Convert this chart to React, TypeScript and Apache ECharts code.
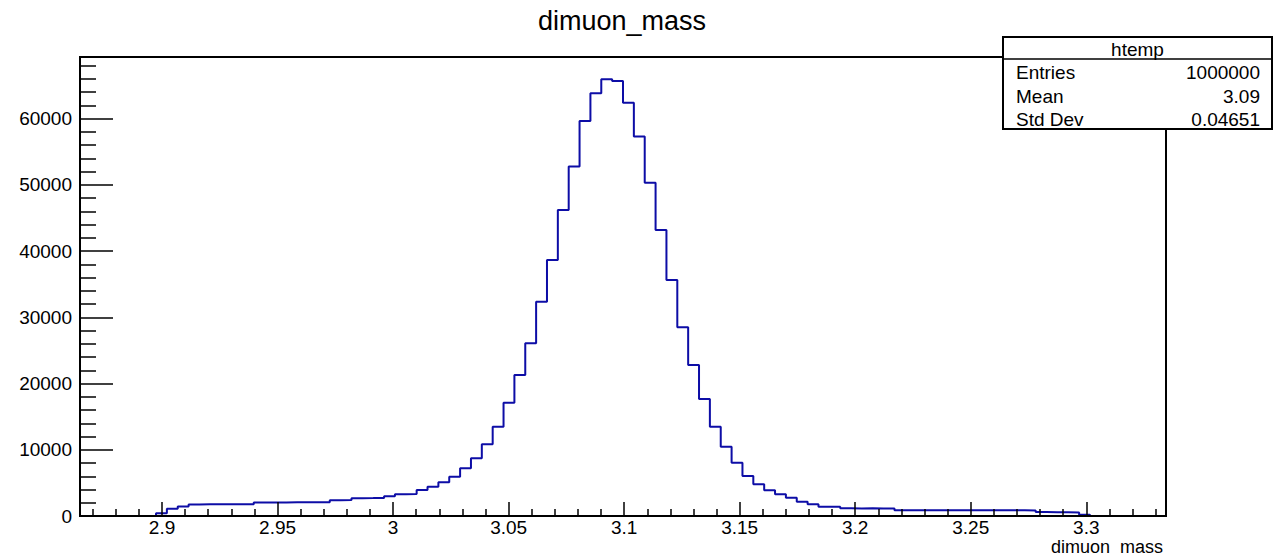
import React, { useEffect, useRef } from "react";
import * as echarts from "echarts";

const chartTitle = "dimuon_mass";
const xAxisName = "dimuon_mass";
const xMin = 2.8645;
const xMax = 3.3345;
const yMax = 69300;
const yTickStep = 10000;

// 100 bins between xMin and xMax
const binCounts = [
  0, 0, 0, 0, 0, 0, 0, 400, 1100, 1450,
  1750, 1760, 1770, 1760, 1780, 1790, 2020, 2030, 2050, 2060,
  2060, 2080, 2090, 2380, 2400, 2680, 2700, 2730, 3000, 3280,
  3320, 3930, 4430, 5080, 5940, 7200, 8710, 10820, 13490, 17100,
  21290, 26070, 32360, 38660, 46200, 52750, 59650, 63820, 65940, 65690,
  62410, 57280, 50330, 43190, 35640, 28490, 22800, 17670, 13490, 10470,
  8050, 6040, 4780, 3900, 3270, 2770, 2170, 1760, 1410, 1400,
  1160, 1150, 1160, 1140, 1150, 870, 860, 860, 850, 860,
  860, 850, 860, 860, 850, 860, 850, 840, 600, 550,
  550, 540, 200, 0, 0, 0, 0, 0, 0, 0,
];

const statsTitle = "htemp";
const statsLabels = ["Entries", "Mean", "Std Dev"];
const statsValues = ["1000000", "3.09", "0.04651"];

const FONT = "'Liberation Sans', Arial, Helvetica, sans-serif";
const LINE_BLUE = "#0d0da6";

export default function App() {
  const ref = useRef<HTMLDivElement>(null);

  useEffect(() => {
    if (!ref.current) return;
    const chart = echarts.init(ref.current, undefined, { renderer: "svg" });

    const bw = (xMax - xMin) / binCounts.length;
    const points: number[][] = binCounts.map((c, i) => [xMin + i * bw, c]);
    points.push([xMax, binCounts[binCounts.length - 1]]);

    const statsX = 1003;
    const statsY = 37;
    const statsW = 269;
    const statsH = 92;
    const rowYs = [72, 96, 119];

    const graphics: any[] = [
      {
        type: "text",
        x: 622,
        y: 21,
        z: 100,
        style: {
          text: chartTitle,
          fill: "#000",
          font: `27px ${FONT}`,
          align: "center",
          verticalAlign: "middle",
        },
      },
      {
        type: "text",
        x: 1163,
        y: 546.5,
        z: 100,
        style: {
          text: xAxisName,
          fill: "#000",
          font: `18px ${FONT}`,
          align: "right",
          verticalAlign: "middle",
        },
      },
      {
        type: "rect",
        z: 100,
        shape: { x: statsX, y: statsY, width: statsW, height: statsH },
        style: { fill: "#fff", stroke: "#000", lineWidth: 2 },
      },
      {
        type: "line",
        z: 101,
        shape: { x1: statsX, y1: 59, x2: statsX + statsW, y2: 59 },
        style: { stroke: "#000", lineWidth: 1.5 },
      },
      {
        type: "text",
        x: statsX + statsW / 2,
        y: 49,
        z: 101,
        style: {
          text: statsTitle,
          fill: "#000",
          font: `19px ${FONT}`,
          align: "center",
          verticalAlign: "middle",
        },
      },
    ];
    statsLabels.forEach((lab, i) => {
      graphics.push({
        type: "text",
        x: 1016,
        y: rowYs[i],
        z: 101,
        style: { text: lab, fill: "#000", font: `19px ${FONT}`, align: "left", verticalAlign: "middle" },
      });
      graphics.push({
        type: "text",
        x: 1260,
        y: rowYs[i],
        z: 101,
        style: { text: statsValues[i], fill: "#000", font: `19px ${FONT}`, align: "right", verticalAlign: "middle" },
      });
    });

    chart.setOption({
      animation: false,
      backgroundColor: "#fff",
      grid: {
        left: 80,
        right: 107,
        top: 57,
        bottom: 40,
        show: true,
        borderColor: "#000",
        borderWidth: 2,
        backgroundColor: "transparent",
      },
      xAxis: {
        type: "value",
        min: xMin,
        max: xMax,
        splitNumber: 10,
        z: 10,
        axisLine: { show: true, onZero: false, lineStyle: { color: "#000", width: 2 } },
        axisTick: { show: true, inside: true, length: 14, lineStyle: { color: "#000", width: 1.5 } },
        minorTick: { show: true, splitNumber: 5, length: 7, lineStyle: { color: "#000", width: 1.5 } },
        splitLine: { show: false },
        axisLabel: {
          show: true,
          showMinLabel: false,
          showMaxLabel: false,
          margin: 3,
          lineHeight: 16,
          color: "#000",
          fontFamily: FONT,
          fontSize: 19,
          formatter: (v: number) => String(v),
        },
      },
      yAxis: {
        type: "value",
        min: 0,
        max: yMax,
        interval: yTickStep,
        z: 10,
        axisLine: { show: true, onZero: false, lineStyle: { color: "#000", width: 2 } },
        axisTick: { show: true, inside: true, length: 33, lineStyle: { color: "#000", width: 1.5 } },
        minorTick: { show: true, splitNumber: 5, length: 16, lineStyle: { color: "#000", width: 1.5 } },
        splitLine: { show: false },
        axisLabel: {
          show: true,
          showMaxLabel: false,
          margin: 8,
          color: "#000",
          fontFamily: FONT,
          fontSize: 19,
          formatter: (v: number) => String(v),
        },
      },
      series: [
        {
          type: "line",
          step: "end",
          data: points,
          symbol: "none",
          showSymbol: false,
          z: 2,
          lineStyle: { color: LINE_BLUE, width: 2 },
        },
      ],
      graphic: graphics,
    });

    return () => {
      chart.dispose();
    };
  }, []);

  return (
    <div
      ref={ref}
      style={{ position: "fixed", left: 0, top: 0, width: 1273, height: 556, background: "#fff" }}
    />
  );
}
